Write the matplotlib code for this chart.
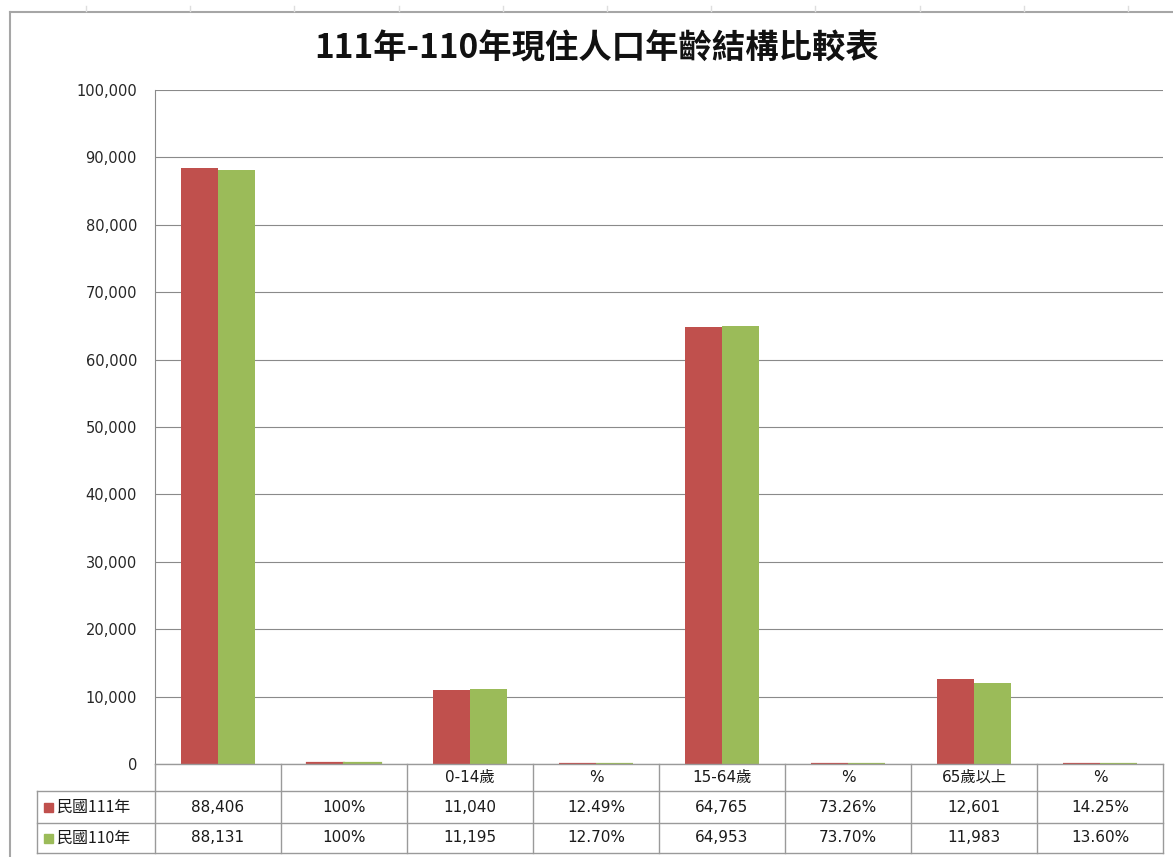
import matplotlib
matplotlib.use("Agg")
import matplotlib.pyplot as plt
from matplotlib.lines import Line2D
from matplotlib.patches import Rectangle

plt.rcParams['font.family'] = ['DejaVu Sans', 'Noto Sans CJK TC']

title = "111年-110年現住人口年齡結構比較表"
categories = ["", "", "0-14歲", "%", "15-64歲", "%", "65歲以上", "%"]
is_pct = [False, True, False, True, False, True, False, True]
series_names = ["民國111年", "民國110年"]
values_111 = [88406, 100, 11040, 12.49, 64765, 73.26, 12601, 14.25]
values_110 = [88131, 100, 11195, 12.70, 64953, 73.70, 11983, 13.60]
colors = ["#C0504D", "#9BBB59"]
yticks = list(range(0, 100001, 10000))

W, H = 1173, 857
fig = plt.figure(figsize=(W / 100, H / 100), dpi=100)


def fx(x):
    return x / W


def fy(y):
    return 1 - y / H


# plot area
L, R, T, B = 155, 1163, 90, 764
ax = fig.add_axes([fx(L), fy(B), (R - L) / W, (B - T) / H])
n = len(categories)
ax.set_xlim(-0.5, n - 0.5)
ax.set_ylim(0, 100000)
bw = 0.29
xs = list(range(n))
for k, (vals, c) in enumerate(zip([values_111, values_110], colors)):
    off = (k - 0.5) * bw
    ax.bar([x + off for x in xs], vals, width=bw, color=c, edgecolor=c,
           linewidth=[1.6 if p else 0.0 for p in is_pct], zorder=3)
ax.set_yticks(yticks)
ax.set_yticklabels([f"{v:,}" for v in yticks], fontsize=10.5, color="#262626")
ax.tick_params(axis='y', length=0, pad=13)
ax.set_xticks([])
ax.grid(axis='y', color="#8a8a8a", linewidth=0.8, zorder=0)
for s in ['top', 'right', 'bottom']:
    ax.spines[s].set_visible(False)
ax.spines['left'].set_color("#8a8a8a")
ax.spines['left'].set_linewidth(0.8)

# data table
TL, TT, TB = 37, 764, 853
row_lines = [764, 791, 823, 853]
cw = (R - L) / n
tax = fig.add_axes([fx(TL), fy(TB), (R - TL) / W, (TB - TT) / H])
tax.set_xlim(-0.5 - (L - TL) / cw, n - 0.5)
tax.set_ylim(TB, TT)
tax.axis('off')
lc = "#9a9a9a"
lw = 1.0
tax.plot([-0.5, n - 0.5], [row_lines[0]] * 2, color=lc, lw=lw, clip_on=False)
for y in row_lines[1:]:
    tax.plot([-0.5 - (L - TL) / cw, n - 0.5], [y, y], color=lc, lw=lw, clip_on=False)
for i in range(n + 1):
    tax.plot([i - 0.5, i - 0.5], [row_lines[0], row_lines[-1]], color=lc, lw=lw, clip_on=False)
tax.plot([-0.5 - (L - TL) / cw] * 2, [row_lines[1], row_lines[-1]], color=lc, lw=lw, clip_on=False)

hy = (row_lines[0] + row_lines[1]) / 2
for i, c in enumerate(categories):
    tax.text(i, hy, c, ha='center', va='center', fontsize=11, color="#1a1a1a")


def fmt(v, p):
    if p:
        return "100%" if v == 100 else f"{v:.2f}%"
    return f"{v:,}"


for r, (vals, name, c) in enumerate(zip([values_111, values_110], series_names, colors)):
    yc = (row_lines[r + 1] + row_lines[r + 2]) / 2
    for i, v in enumerate(vals):
        tax.text(i, yc, fmt(v, is_pct[i]), ha='center', va='center', fontsize=11, color="#1a1a1a")
    kx = -0.5 - (L - TL) / cw + 7 / cw
    tax.add_patch(Rectangle((kx, yc - 4.5), 9 / cw, 9, color=c, clip_on=False))
    tax.text(kx + 13 / cw, yc, name, ha='left', va='center', fontsize=11.5, color="#1a1a1a",
             family=['Noto Sans CJK TC'])

# title
fig.text(fx(597), fy(49), title, ha='center', va='center', fontsize=24, fontweight='bold',
         family=['Noto Sans CJK TC'], color="#111111")

# chart frame / spreadsheet decoration
fig.add_artist(Line2D([fx(10), 1], [fy(12), fy(12)], color="#a6a6a6", lw=1.5))
fig.add_artist(Line2D([fx(10), fx(10)], [fy(12), 0], color="#a6a6a6", lw=1.5))
for k in range(11):
    x = 86 + 104.2 * k
    fig.add_artist(Line2D([fx(x), fx(x)], [fy(6), fy(11)], color="#dedede", lw=1))

fig.savefig("out.png", dpi=100)
